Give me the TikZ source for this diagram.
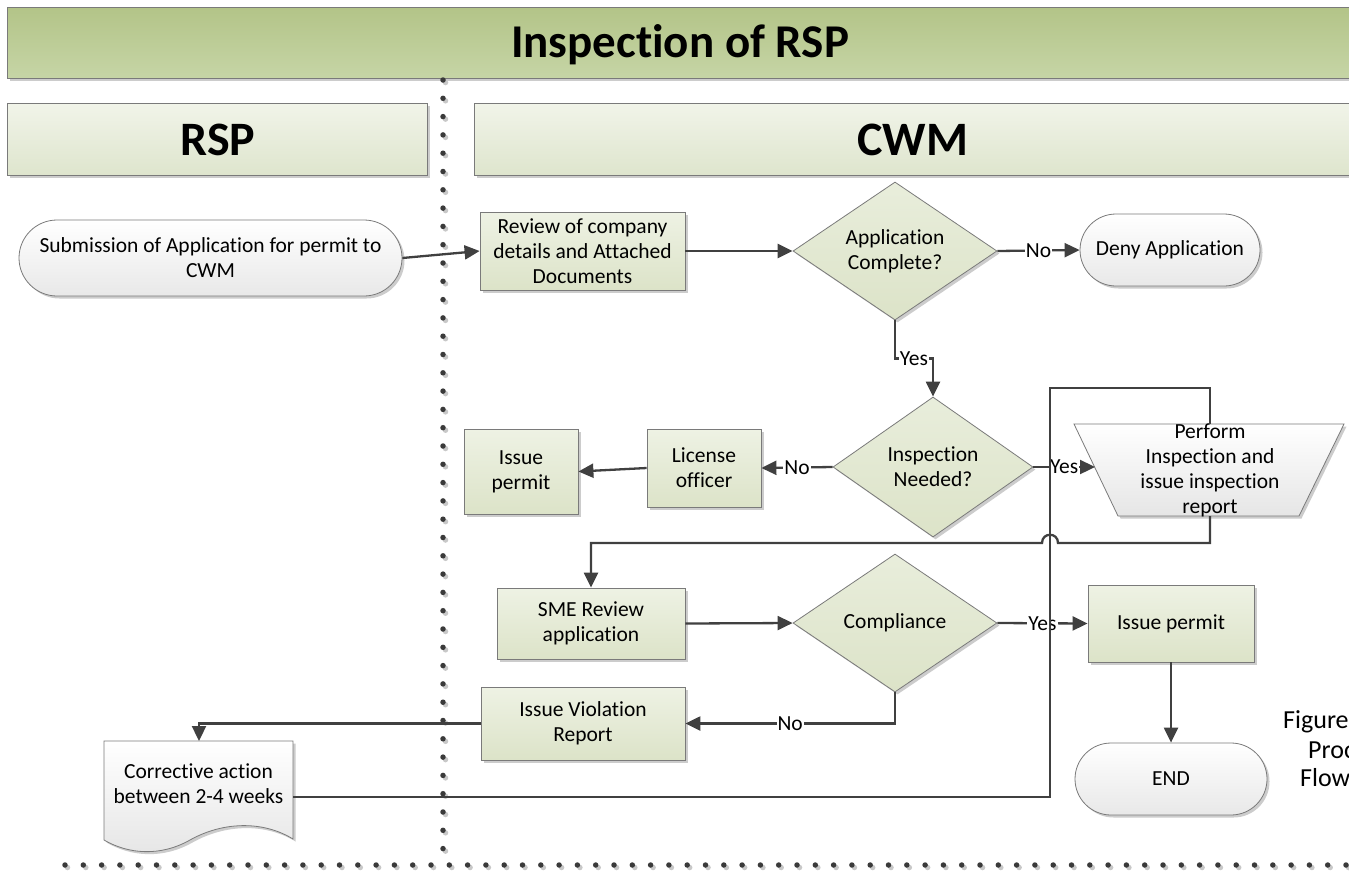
\documentclass[tikz,border=0pt]{standalone}
\usepackage{fontspec}
\setmainfont{Carlito}[Ligatures=NoCommon]
\usetikzlibrary{shapes.geometric,arrows.meta,shadows}
\definecolor{titletop}{HTML}{B3C488}
\definecolor{titlebot}{HTML}{C6D5A6}
\definecolor{headtop}{HTML}{F1F4E9}
\definecolor{headbot}{HTML}{DEE5CD}
\definecolor{proctop}{HTML}{EEF2E4}
\definecolor{procbot}{HTML}{DCE3C8}
\definecolor{edgecol}{HTML}{7A7A7A}
\definecolor{conncol}{HTML}{404040}
\definecolor{dotcol}{HTML}{3A3A3A}
\definecolor{dotshadow}{HTML}{C8C8C8}
\begin{document}
\begin{tikzpicture}[x=1pt,y=-1pt,
  body/.style={font=\fontsize{21.5}{25}\selectfont, align=center},
  shad/.style={drop shadow={shadow xshift=2.5pt,shadow yshift=-2.5pt,fill=black!20,opacity=1}},
  procbox/.style={body, shape=rectangle, draw=edgecol, line width=0.8pt, top color=proctop, bottom color=procbot, shad, inner sep=2pt},
  decision/.style={body, shape=diamond, draw=edgecol, line width=0.8pt, top color=proctop!70!procbot, bottom color=procbot, shad, inner sep=0pt, aspect=1.48},
  term/.style={body, shape=rectangle, draw=edgecol, line width=0.8pt, top color=white, bottom color=black!9, shad, inner sep=2pt},
  header/.style={shape=rectangle, draw=edgecol, line width=0.8pt, top color=headtop, bottom color=headbot, shad},
  conn/.style={draw=conncol, line width=2.3pt, -{Triangle[length=15pt,width=14pt]}},
  thinconn/.style={draw=conncol, line width=1.3pt},
  lbl/.style={body, fill=white, inner sep=1pt},
  dotline/.style={line width=5.5pt, line cap=round, dash pattern=on 0pt off 18.3pt}
]
\useasboundingbox (0,0) rectangle (1349,873);
\fill[white] (0,0) rectangle (1349,873);

% title and lane headers
\node[header, top color=titletop, bottom color=titlebot, minimum width=1346, minimum height=71, anchor=north west] (title) at (7,7) {};
\node (titletext) at (680,45) {\fontsize{47}{50}\selectfont\bfseries Inspection of RSP};
\node[header, minimum width=420, minimum height=72, anchor=north west] (rsp) at (7,103) {};
\node (rsptext) at (218,140) {\fontsize{48}{50}\selectfont\bfseries RSP};
\node[header, minimum width=879, minimum height=72, anchor=north west] (cwm) at (474,103) {};
\node (cwmtext) at (913,140) {\fontsize{48}{50}\selectfont\bfseries CWM};

% dotted separators
\draw[dotline, dotshadow] (445.5,82.5) -- (445.5,867.5);
\draw[dotline, dotshadow] (67.5,867.5) -- (1352,867.5);
\draw[dotline, dotcol] (443,80) -- (443,865);
\draw[dotline, dotcol] (65,865) -- (1352,865);

% nodes
\node[term, minimum width=383, minimum height=76, rounded corners=38pt] (sub) at (210.5,258) {Submission of Application for permit to\\CWM};
\node[procbox, minimum width=205, minimum height=78] (rev) at (582.5,251) {Review of company\\details and Attached\\Documents};
\node[decision, minimum width=204, minimum height=138] (d1) at (895,251) {Application\\Complete?};
\node[term, minimum width=180, minimum height=72, rounded corners=36pt] (deny) at (1170,250) {Deny Application};
\node[decision, minimum width=200, minimum height=140] (d2) at (933,467) {Inspection\\Needed?};
\node[procbox, minimum width=114, minimum height=78] (lic) at (704,468) {License\\officer};
\node[procbox, minimum width=114, minimum height=85] (ip1) at (521,471.5) {Issue\\permit};

% trapezoid (manual operation)
\path[draw=edgecol, line width=0.8pt, top color=white, bottom color=black!10, shad] (1074,424) -- (1344,424) -- (1299,516) -- (1118,516) -- cycle;
\coordinate (perfT) at (1210,424);
\coordinate (perfB) at (1210,516);
\coordinate (perfL) at (1095,467);
\node[body] (perf) at (1210,470.5) {Perform\\Inspection and\\issue inspection\\report};

\node[procbox, minimum width=188, minimum height=71] (sme) at (591,623.5) {SME Review\\application};
\node[decision, minimum width=204, minimum height=138] (d3) at (895,623) {Compliance};
\node[procbox, minimum width=166, minimum height=77] (ip2) at (1171,623.5) {Issue permit};
\node[term, minimum width=192, minimum height=72, rounded corners=36pt] (end) at (1171,779) {END};
\node[procbox, minimum width=204, minimum height=73] (ivr) at (583,723.5) {Issue Violation\\Report};

% document shape
\path[draw=edgecol, line width=0.8pt, top color=white, bottom color=black!10, shad] (104,741) -- (293,741) -- (293,839) .. controls (262,820) and (222,822) .. (190,840) .. controls (160,857) and (128,854) .. (104,840) -- cycle;
\coordinate (doctop) at (199,741);
\coordinate (docR) at (293,797);
\node[body] (corr) at (198.5,783.5) {Corrective action\\between 2-4 weeks};

% caption (cut at right edge)
\node[anchor=west, font=\fontsize{26}{28}\selectfont, inner sep=0pt] (cap1) at (1283,722) {Figure};
\node[anchor=west, font=\fontsize{26}{28}\selectfont, inner sep=0pt] (cap2) at (1308,750) {Proc};
\node[anchor=west, font=\fontsize{26}{28}\selectfont, inner sep=0pt] (cap3) at (1300,778) {Flow};

% connectors
\draw[conn] (sub.east) -- (rev.west);
\draw[conn] (rev.east) -- (d1.west);
\draw[conn] (d1.east) -- node[lbl]{No} (deny.west);
\draw[conn] (d1.south) -- ++(0,38) -| node[lbl, pos=0.25]{Yes} (d2.north);
\draw[conn] (d2.east) -- node[lbl]{Yes} (perfL);
\draw[conn] (d2.west) -- node[lbl]{No} (lic.east);
\draw[conn] (lic.west) -- (ip1.east);
\draw[conn] (perfB) -- (1210,543) -- (1058,543) .. controls (1058,532) and (1042,532) .. (1042,543) -| (sme.north);
\draw[conn] (sme.east) -- (d3.west);
\draw[conn] (d3.east) -- node[lbl]{Yes} (ip2.west);
\draw[conn] (ip2.south) -- (end.north);
\draw[conn] (d3.south) |- node[lbl, pos=0.75]{No} (ivr.east);
\draw[conn] (ivr.west) -| (doctop);
\draw[thinconn] (docR) -- (1050,797) -- (1050,388) -- (1210,388) -- (perfT);
\end{tikzpicture}
\end{document}
